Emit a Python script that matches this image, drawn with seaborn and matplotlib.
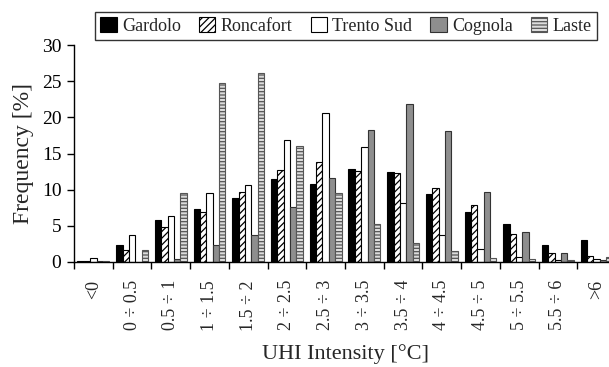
import matplotlib
matplotlib.use("Agg")
import matplotlib.pyplot as plt
import seaborn as sns
import pandas as pd
from matplotlib.patches import Patch

categories = ["<0", "0 ÷ 0.5", "0.5 ÷ 1", "1 ÷ 1.5", "1.5 ÷ 2", "2 ÷ 2.5", "2.5 ÷ 3",
              "3 ÷ 3.5", "3.5 ÷ 4", "4 ÷ 4.5", "4.5 ÷ 5", "5 ÷ 5.5", "5.5 ÷ 6", ">6"]
series_names = ["Gardolo", "Roncafort", "Trento Sud", "Cognola", "Laste"]
gardolo = [0.1, 2.3, 5.8, 7.3, 8.8, 11.5, 10.8, 12.8, 12.5, 9.4, 6.9, 5.2, 2.4, 3.0]
roncafort = [0.1, 1.7, 4.8, 6.9, 9.7, 12.7, 13.8, 12.6, 12.3, 10.2, 7.9, 3.9, 1.2, 0.8]
trento_sud = [0.55, 3.8, 6.3, 9.5, 10.7, 16.8, 20.6, 15.9, 8.1, 3.8, 1.8, 0.7, 0.3, 0.4]
cognola = [0.1, 0.0, 0.4, 2.3, 3.8, 7.6, 11.6, 18.3, 21.8, 18.1, 9.7, 4.2, 1.3, 0.3]
laste = [0.15, 1.6, 9.6, 24.8, 26.1, 16.0, 9.5, 5.3, 2.6, 1.5, 0.55, 0.45, 0.3, 0.7]
y_ticks = [0, 5, 10, 15, 20, 25, 30]

values = [gardolo, roncafort, trento_sud, cognola, laste]
rows = []
for name, vals in zip(series_names, values):
    for cat, v in zip(categories, vals):
        rows.append({"UHI": cat, "Site": name, "Freq": v})
df = pd.DataFrame(rows)

sns.set_style("ticks")
plt.rcParams["font.family"] = ["Liberation Serif", "DejaVu Serif"]
plt.rcParams["hatch.linewidth"] = 0.9

styles = {
    "Gardolo": dict(facecolor="black", edgecolor="black", hatch=None),
    "Roncafort": dict(facecolor="white", edgecolor="black", hatch="/////"),
    "Trento Sud": dict(facecolor="white", edgecolor="black", hatch=None),
    "Cognola": dict(facecolor="#8e8e8e", edgecolor="#333333", hatch=None),
    "Laste": dict(facecolor="#dcdcdc", edgecolor="#555555", hatch="-----"),
}

fig = plt.figure(figsize=(6.09, 3.67), dpi=100)
ax = fig.add_axes([74 / 609, 1 - 262 / 367, 542 / 609, 217 / 367])

sns.barplot(data=df, x="UHI", y="Freq", hue="Site", order=categories,
            hue_order=series_names, width=0.82, ax=ax, legend=False)

for name, cont in zip(series_names, ax.containers):
    st = styles[name]
    for p in cont.patches:
        p.set_facecolor(st["facecolor"])
        p.set_edgecolor(st["edgecolor"])
        p.set_linewidth(0.8)
        if st["hatch"]:
            p.set_hatch(st["hatch"])

ax.set_xlim(-0.5, len(categories) - 0.5)
ax.set_ylim(0, 30)
ax.set_yticks(y_ticks)
ax.tick_params(axis="y", labelsize=14, direction="out", length=5, width=1, colors="black", pad=4)
ax.set_xticks(range(len(categories)))
ax.set_xticklabels(categories, rotation=90, fontsize=13)
ax.tick_params(axis="x", which="major", length=0, pad=13)
ax.set_xticks([i + 0.5 for i in range(-1, len(categories))], minor=True)
ax.tick_params(axis="x", which="minor", length=5, width=1, direction="out", color="black")
for s in ["top", "right"]:
    ax.spines[s].set_visible(False)
for s in ["left", "bottom"]:
    ax.spines[s].set_color("black")
    ax.spines[s].set_linewidth(1.0)
ax.spines["bottom"].set_clip_on(False)

ax.set_ylabel("Frequency [%]", fontsize=17, labelpad=6)
ax.set_xlabel("UHI Intensity [°C]", fontsize=16, labelpad=10)

handles = []
for name in series_names:
    st = styles[name]
    handles.append(Patch(facecolor=st["facecolor"], edgecolor=st["edgecolor"],
                         hatch=st["hatch"], linewidth=0.8, label=name))
leg = fig.legend(handles=handles, loc="center", ncol=5,
                 bbox_to_anchor=(346 / 609, 1 - 26 / 367), bbox_transform=fig.transFigure,
                 fontsize=13, frameon=True, fancybox=False, handlelength=0.9,
                 handleheight=0.9, handletextpad=0.3, columnspacing=1.0,
                 borderpad=0.3, edgecolor="black")
leg.get_frame().set_linewidth(1.0)

fig.savefig("out.png", dpi=100)
